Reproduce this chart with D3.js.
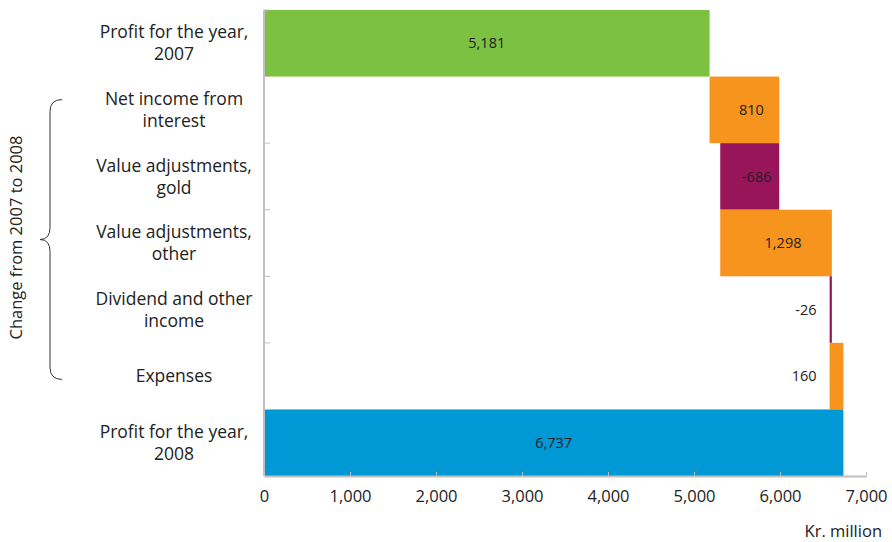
<!DOCTYPE html>
<html>
<head>
<meta charset="utf-8">
<script src="https://cdn.jsdelivr.net/npm/d3@7"></script>
<style>
  body { margin: 0; background: #fff; }
  text { font-family: "Open Sans", "Noto Sans", sans-serif; fill: #222; }
</style>
</head>
<body>
<div id="main"></div>
<script>
var ctx = {
    w: 892,
    h: 542,
    left: 264,
    right: 866,
    top: 10,
    bottom: 476
};

// categories, top to bottom (lines split at "|")
var categories = [
    "Profit for the year,|2007",
    "Net income from|interest",
    "Value adjustments,|gold",
    "Value adjustments,|other",
    "Dividend and other|income",
    "Expenses",
    "Profit for the year,|2008"
];
// change per row; first and last rows are totals
var values = [5181, 810, -686, 1298, -26, 160, 6737];
var kinds = ["start", "change", "change", "change", "change", "change", "total"];
var xTicks = [0, 1000, 2000, 3000, 4000, 5000, 6000, 7000];

var colors = {
    start: "#7cc142",
    total: "#0099d6",
    up: "#f7941d",
    down: "#99155b"
};

var createChart = function(svg){
    var x = d3.scaleLinear().domain([0, 7000]).range([ctx.left, ctx.right]);
    var y = d3.scaleBand().domain(categories).range([ctx.top, ctx.bottom]).padding(0);

    // waterfall start/end for each row
    var running = 0;
    var rows = categories.map(function(c, i){
        var v = values[i], from, to;
        if (kinds[i] === "start" || kinds[i] === "total") {
            from = 0; to = v; running = v;
        } else {
            from = running; to = running + v; running = to;
        }
        return {cat: c, value: v, kind: kinds[i], from: from, to: to};
    });

    function fill(d){
        if (d.kind === "change") return d.value >= 0 ? colors.up : colors.down;
        return colors[d.kind];
    }

    svg.selectAll("rect.bar")
       .data(rows)
       .enter().append("rect")
       .attr("class", "bar")
       .attr("x", function(d){ return x(Math.min(d.from, d.to)); })
       .attr("y", function(d){ return y(d.cat); })
       .attr("width", function(d){ return Math.abs(x(d.to) - x(d.from)); })
       .attr("height", y.bandwidth())
       .style("fill", fill);

    // value labels (plain hyphen for negatives, like the original)
    var fmt = d3.formatLocale({decimal: ".", thousands: ",", grouping: [3], currency: ["", ""], minus: "-"}).format(",");
    svg.selectAll("text.val")
       .data(rows)
       .enter().append("text")
       .attr("class", "val")
       .attr("x", function(d){
           var w = Math.abs(x(d.to) - x(d.from));
           var lo = x(Math.min(d.from, d.to));
           if (w < 40) return lo - 13;
           return lo + w / 2 + (d.kind === "change" ? 7 : 0);
       })
       .attr("y", function(d){ return y(d.cat) + y.bandwidth() / 2; })
       .attr("dy", "0.35em")
       .attr("text-anchor", function(d){
           return Math.abs(x(d.to) - x(d.from)) < 40 ? "end" : "middle";
       })
       .style("font-size", "14.5px")
       .text(function(d){ return fmt(d.value); });

    // category labels
    var catLabels = svg.selectAll("text.cat")
       .data(rows)
       .enter().append("text")
       .attr("class", "cat")
       .attr("text-anchor", "middle")
       .style("font-size", "17.5px");
    catLabels.selectAll("tspan")
       .data(function(d){
           var parts = d.cat.split("|");
           return parts.map(function(p, i){ return {t: p, i: i, n: parts.length, cat: d.cat}; });
       })
       .enter().append("tspan")
       .attr("x", 174)
       .attr("y", function(p){
           return y(p.cat) + y.bandwidth() / 2 + (p.i - (p.n - 1) / 2) * 22;
       })
       .attr("dy", "0.35em")
       .text(function(p){ return p.t; });

    // axes
    var axisColor = "#c0c0c0";
    var xAxis = svg.append("g")
       .attr("transform", "translate(0," + ctx.bottom + ")")
       .call(d3.axisBottom(x).tickValues(xTicks).tickFormat(fmt)
             .tickSizeInner(-4).tickSizeOuter(0).tickPadding(14));
    xAxis.select(".domain").attr("stroke", axisColor).attr("stroke-width", 2);
    xAxis.selectAll(".tick line").attr("stroke", axisColor);
    xAxis.selectAll(".tick text")
         .style("font-size", "16.5px")
         .style("font-family", "'Open Sans', 'Noto Sans', sans-serif")
         .attr("fill", "#222");

    svg.append("line")
       .attr("x1", ctx.left).attr("x2", ctx.left)
       .attr("y1", ctx.top).attr("y2", ctx.bottom)
       .attr("stroke", axisColor).attr("stroke-width", 2);
    var bounds = categories.map(function(c){ return y(c); });
    svg.selectAll("line.ytick")
       .data(bounds)
       .enter().append("line")
       .attr("class", "ytick")
       .attr("x1", ctx.left).attr("x2", ctx.left + 6)
       .attr("y1", function(d){ return d; }).attr("y2", function(d){ return d; })
       .attr("stroke", axisColor);

    svg.append("text")
       .attr("x", 882).attr("y", 537)
       .attr("text-anchor", "end")
       .style("font-size", "16.5px")
       .text("Kr. million");

    // brace + vertical title
    var bTop = y(categories[1]) + 23, bBot = y(categories[5]) + y.bandwidth() - 30;
    var mid = (bTop + bBot) / 2;
    var brace = d3.path();
    brace.moveTo(62, bTop);
    brace.quadraticCurveTo(50, bTop, 50, bTop + 12);
    brace.lineTo(50, mid - 12);
    brace.quadraticCurveTo(50, mid, 40, mid);
    brace.quadraticCurveTo(50, mid, 50, mid + 12);
    brace.lineTo(50, bBot - 12);
    brace.quadraticCurveTo(50, bBot, 62, bBot);
    svg.append("path")
       .attr("d", brace.toString())
       .attr("fill", "none")
       .attr("stroke", "#333")
       .attr("stroke-width", 1);

    svg.append("text")
       .attr("transform", "translate(22," + (mid - 2) + ") rotate(-90)")
       .attr("text-anchor", "middle")
       .style("font-size", "16.5px")
       .text("Change from 2007 to 2008");
};

var createViz = function(){
    var svgEl = d3.select("#main").append("svg");
    svgEl.attr("width", ctx.w);
    svgEl.attr("height", ctx.h);
    createChart(svgEl);
};

createViz();
</script>
</body>
</html>
